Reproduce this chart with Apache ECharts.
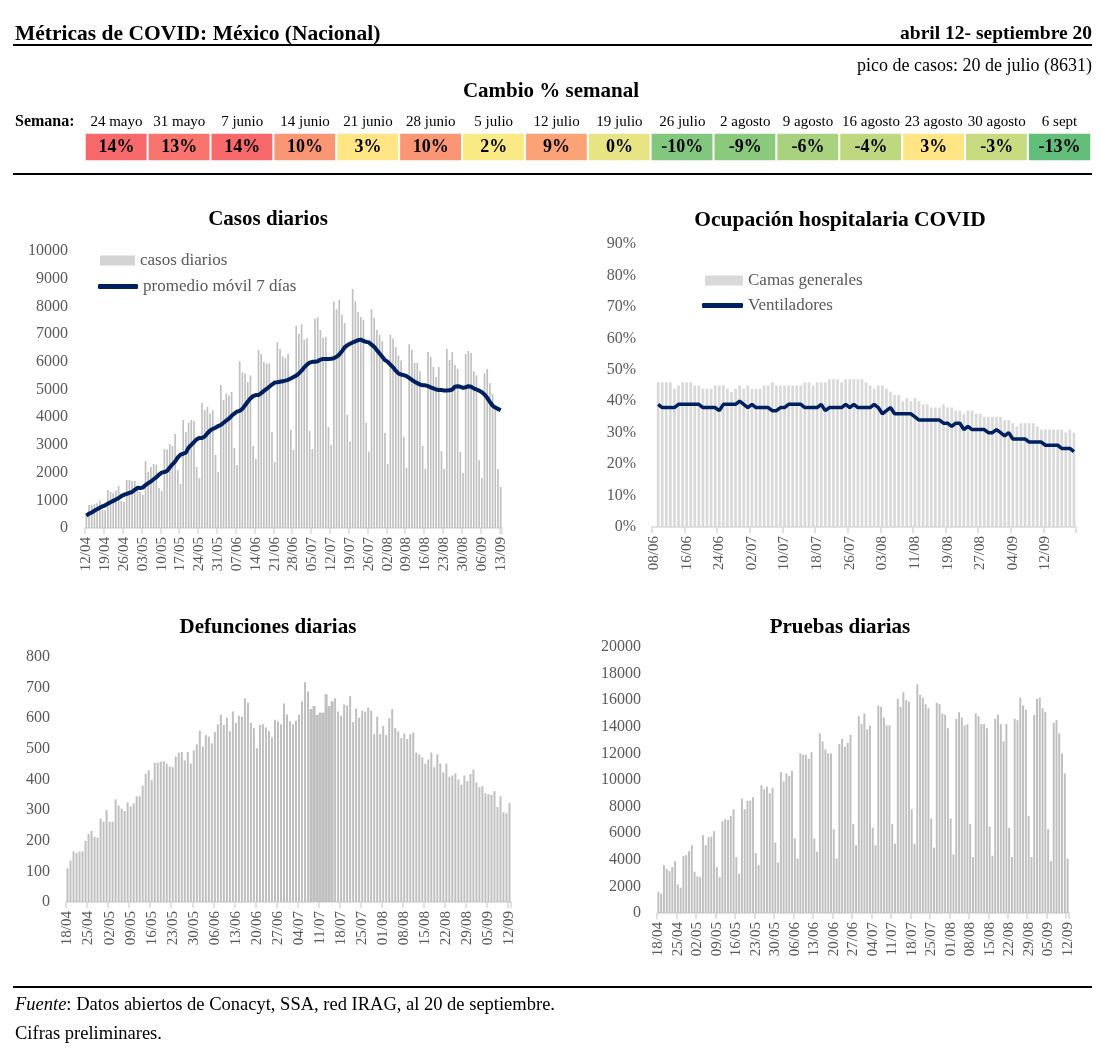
<!DOCTYPE html>
<html><head><meta charset="utf-8">
<script src="https://cdn.jsdelivr.net/npm/echarts/dist/echarts.min.js"></script>
<style>html,body{margin:0;padding:0;background:#fff}#c{width:1101px;height:1050px}</style>
</head><body><div id="c"></div>
<script>
// ---------------- DATA ----------------
const weekLabels = ['24 mayo','31 mayo','7 junio','14 junio','21 junio','28 junio','5 julio','12 julio','19 julio','26 julio','2 agosto','9 agosto','16 agosto','23 agosto','30 agosto','6 sept'];
const weekChange = [14,13,14,10,3,10,2,9,0,-10,-9,-6,-4,3,-3,-13];

const casosStart = '2020-04-12';
const casosDiarios = [470,
 830,840,860,890,1000, 660,650,
 1370,1310,1260,1350,1520, 990,940,
 1730,1730,1700,1700,1500, 1300,1200,
 2420,2020,2200,2310,2290, 1440,1340,
 2850,2830,3030,2960,3390, 2090,1590,
 3900,3470,3800,3900,3860, 2200,1800,
 4510,4260,4370,4130,4250, 2640,2020,
 5160,4620,4850,4780,4910, 2890,2270,
 6020,5620,5580,5270,5510, 2960,2490,
 6430,6280,5990,5940,5940, 3470,2380,
 6710,6460,6190,6130,6290, 3540,2820,
 7300,7000,7350,6800,6850, 3500,2850,
 7550,7600,7150,6870,6900, 3650,3000,
 8170,7900,8240,7700,7400, 4080,3120,
 8631,8180,7800,7620,7520, 3800,2760,
 7900,7580,7150,6970,6750, 3430,2310,
 6970,6840,6530,6230,6050, 3290,2170,
 6630,6430,5960,5960,5660, 2960,2130,
 6350,6170,5810,5450,5810, 2780,2130,
 6460,6060,6350,5880,5740, 2740,1990,
 6280,6390,6320,5660,5510, 2450,1800,
 5580,5740,5230,4840,4300, 2130,1480];
const casosPromedio = [450,520,560,620,680,730,780,820,
 880,930,980,1030,1080,1150,1200,
 1230,1270,1300,1380,1450,1440,1460,
 1550,1620,1680,1760,1830,1920,2000,
 2020,2060,2180,2300,2400,2550,2650,
 2680,2720,2900,3000,3100,3200,3250,
 3250,3300,3420,3520,3580,3620,3680,
 3720,3800,3880,3950,4050,4130,4200,
 4230,4300,4430,4560,4680,4760,4800,
 4800,4870,4950,5020,5100,5180,5250,
 5260,5280,5300,5320,5350,5400,5450,
 5500,5580,5680,5800,5900,5970,6000,
 6000,6020,6080,6100,6100,6100,6110,
 6130,6180,6260,6380,6520,6600,6650,
 6700,6740,6780,6800,6750,6720,6700,
 6620,6540,6420,6300,6180,6060,6000,
 5900,5800,5680,5580,5540,5520,5480,
 5420,5350,5280,5230,5180,5150,5150,
 5120,5080,5040,5000,4980,4980,4960,
 4960,4970,5000,5100,5120,5100,5060,
 5080,5120,5100,5040,5000,4960,4900,
 4820,4700,4550,4420,4350,4300,4250];

const hospStart = '2020-06-08';
const camasGenerales = [null,
 46,46,46,46,44,45,46,46,46,45,45,44,44,44,45,45,45,44,43,44,45,44,45,44,44,44,45,45,46,
 45,45,45,45,45,45,45,46,46,45,46,46,46,47,47,47,46,47,47,47,47,47,46,45,44,45,45,44,43,
 42,42,40,41,40,41,40,39,39,38,38,38,39,38,38,37,37,36,37,37,36,36,
 35,35,35,35,35,34,34,33,32,33,33,33,33,32,31,31,31,31,31,31,30,31,30];
const ventiladores = [null,
 39,38,38,38,38,39,39,39,39,39,39,38,38,38,38,37,39,39,39,39,40,39,38,39,38,38,38,38,37,37,
 38,38,39,39,39,39,38,38,38,38,39,37,38,38,38,38,39,38,39,38,38,38,38,39,38,36,37,38,
 36,36,36,36,36,35,34,34,34,34,34,34,33,33,32,33,33,31,32,31,31,31,31,30,30,31,30,29,30,
 28,28,28,28,27,27,27,27,26,26,26,26,25,25,25,24];

const defStart = '2020-04-18';
const defunciones = [110,135,165,160,165,165,200,222,232,212,
 210,272,262,300,262,262,335,315,305,297,
 325,312,322,345,345,380,418,430,398,455,
 455,458,460,452,442,440,475,488,490,462,
 490,452,495,515,560,508,545,540,518,555,
 580,612,578,602,558,622,585,608,605,665,
 650,585,568,502,578,580,570,558,538,595,
 590,580,648,612,590,580,592,612,655,718,
 688,630,640,610,618,618,678,640,655,665,
 622,608,645,642,672,588,632,602,625,622,
 635,625,548,605,548,575,545,600,630,568,
 557,535,550,532,548,553,488,482,472,452,
 465,488,440,482,452,423,452,408,413,420,
 400,383,413,395,418,432,390,375,378,355,
 352,350,362,310,345,293,290,323];
const pruebas = [1600,1450,3600,3300,3150,3450,3900,
 2150,1900,4300,4350,4650,5100,3100,
 2750,2700,5850,5100,5700,5750,6150,
 3450,2700,6900,7050,7000,7300,7800,
 4200,2950,8600,7800,8450,8450,8700,
 4500,3600,9600,9300,9500,9000,9400,
 5300,3800,10600,9900,10500,10300,10700,
 5600,4100,12000,11900,11900,11600,12100,
 5600,4600,13500,12900,12300,12000,12000,
 6300,4100,12700,13100,12500,12800,13400,
 6700,5100,14800,14200,15000,13800,14100,
 6400,5100,15600,15500,14700,14100,14100,
 6700,5200,16100,15500,16600,16000,15900,
 7800,5200,17200,16400,16200,15700,15400,
 7100,4900,15800,15700,15000,14900,13900,
 7100,4400,14600,15100,14700,14100,14200,
 6700,4200,15000,14800,14200,14200,13900,
 6500,4300,14600,14900,14200,12900,14200,
 6400,4200,14600,14500,16200,15600,15300,
 7300,4200,14900,16100,16200,15400,15100,
 6300,3900,14300,14500,13500,12000,10500,
 4100];

// ---------------- HELPERS ----------------
function dayLabels(startISO, n){
  const t0 = Date.parse(startISO + 'T00:00:00Z');
  const p = x => String(x).padStart(2,'0');
  return Array.from({length:n}, (_, i) => { const d = new Date(t0 + i*864e5); return p(d.getUTCDate()) + '/' + p(d.getUTCMonth()+1); });
}
const casosCats = dayLabels(casosStart, casosDiarios.length);
const hospCats = dayLabels(hospStart, camasGenerales.length);
const defCats = dayLabels(defStart, defunciones.length);
const pruCats = dayLabels(defStart, pruebas.length);
// block of days that Excel rendered merged (no gaps)
const defBloque = defunciones.map((v, i) => (i >= 81 && i <= 88) ? v : '-');

const F = "'Liberation Serif','Times New Roman',serif";
const GRAY = '#595959';
const NAVY = '#002060';

// Excel-like 3 colour scale (green - yellow at median - red)
const sortedW = weekChange.slice().sort((a,b)=>a-b);
const wMin = sortedW[0], wMax = sortedW[sortedW.length-1];
const wMid = (sortedW[(sortedW.length-1)>>1] + sortedW[sortedW.length>>1]) / 2;
function excelColor(v){
  const G=[99,190,123], Y=[255,235,132], R=[248,105,107];
  let a,b,t;
  if (v <= wMid){ a=G; b=Y; t=(v-wMin)/(wMid-wMin); } else { a=Y; b=R; t=(v-wMid)/(wMax-wMid); }
  return 'rgb(' + a.map((c,i)=>Math.round(c+(b[i]-c)*t)).join(',') + ')';
}
const scaleColors = [];
for (let v = wMin; v <= wMax; v++) scaleColors.push(excelColor(v));

function xCat(gridIndex, data, interval){
  return {
    type:'category', gridIndex, data, boundaryGap:true,
    axisLine:{lineStyle:{color:'#D9D9D9', width:1.5}},
    axisTick:{show:true, interval, length:6, lineStyle:{color:'#D9D9D9', width:1.5}},
    axisLabel:{interval, rotate:90, color:GRAY, fontFamily:F, fontSize:15, margin:9}
  };
}
function yVal(gridIndex, max, interval, suffix, margin){
  return {
    type:'value', gridIndex, min:0, max, interval,
    axisLine:{show:false}, axisTick:{show:false}, splitLine:{show:false},
    axisLabel:{color:GRAY, fontFamily:F, fontSize:16, margin:margin, formatter: v => String(v) + suffix}
  };
}
function txt(x, y, text, font, align, fill){
  return {type:'text', x, y, silent:true, style:{text, font, fill: fill || '#000', align: align || 'left', textAlign: align || 'left', verticalAlign:'middle', textVerticalAlign:'middle'}};
}
function hline(y, x1, x2){
  return {type:'line', silent:true, shape:{x1, y1:y, x2, y2:y}, style:{stroke:'#000', lineWidth:2}};
}
const legendText = {color:GRAY, fontFamily:F, fontSize:17};

const chart = echarts.init(document.getElementById('c'), null, {renderer:'canvas'});
chart.setOption({
  animation:false,
  backgroundColor:'#fff',
  grid:[
    {left:85, top:251, width:417, height:277},
    {left:652, top:244, width:424, height:283},
    {left:66, top:657, width:445, height:245},
    {left:657, top:647, width:412, height:266},
    {left:85, top:133, width:1006, height:28}
  ],
  xAxis:[
    xCat(0, casosCats, 6),
    xCat(1, hospCats, 7),
    xCat(2, defCats, 6),
    {type:'category', gridIndex:2, data:defCats, show:false},
    xCat(3, pruCats, 6),
    {type:'category', gridIndex:4, data:weekLabels, position:'top', axisLine:{show:false}, axisTick:{show:false},
     axisLabel:{color:'#000', fontFamily:F, fontSize:15, margin:3, interval:0}}
  ],
  yAxis:[
    yVal(0, 10000, 1000, '', 17),
    yVal(1, 90, 10, '%', 16),
    yVal(2, 800, 100, '', 16),
    yVal(3, 20000, 2000, '', 16),
    {type:'category', gridIndex:4, data:['Semana'], show:false}
  ],
  visualMap:{type:'continuous', show:false, seriesIndex:7, dimension:2, min:wMin, max:wMax, inRange:{color:scaleColors}},
  legend:[
    {data:[{name:'casos diarios', icon:'rect', itemStyle:{color:'#D4D4D4'}}],
     left:95, top:247, itemWidth:35, itemHeight:10, selectedMode:false, textStyle:legendText},
    {data:[{name:'promedio móvil 7 días', icon:'roundRect', itemStyle:{color:NAVY}}],
     left:93, top:273, itemWidth:40, itemHeight:5, selectedMode:false, textStyle:legendText},
    {data:[{name:'Camas generales', icon:'rect', itemStyle:{color:'#D9D9D9'}}],
     left:700, top:267, itemWidth:38, itemHeight:10, selectedMode:false, textStyle:legendText},
    {data:[{name:'Ventiladores', icon:'roundRect', itemStyle:{color:NAVY}}],
     left:697, top:292, itemWidth:41, itemHeight:5, selectedMode:false, textStyle:legendText}
  ],
  series:[
    {name:'casos diarios', type:'bar', xAxisIndex:0, yAxisIndex:0, data:casosDiarios, barWidth:'62%', itemStyle:{color:'#C0C0C0'}, silent:true},
    {name:'promedio móvil 7 días', type:'line', xAxisIndex:0, yAxisIndex:0, data:casosPromedio, symbol:'none', lineStyle:{color:NAVY, width:4}, itemStyle:{color:NAVY}, silent:true},
    {name:'Camas generales', type:'bar', xAxisIndex:1, yAxisIndex:1, data:camasGenerales, barWidth:'66%', itemStyle:{color:'#D9D9D9'}, silent:true},
    {name:'Ventiladores', type:'line', xAxisIndex:1, yAxisIndex:1, data:ventiladores, symbol:'none', lineStyle:{color:NAVY, width:3.5}, itemStyle:{color:NAVY}, silent:true},
    {name:'defunciones', type:'bar', xAxisIndex:2, yAxisIndex:2, data:defunciones, barWidth:'66%', itemStyle:{color:'#BFBFBF'}, silent:true},
    {name:'defunciones bloque', type:'bar', xAxisIndex:3, yAxisIndex:2, data:defBloque, barWidth:'100%', itemStyle:{color:'#BFBFBF'}, silent:true},
    {name:'pruebas', type:'bar', xAxisIndex:4, yAxisIndex:3, data:pruebas, barWidth:'70%', itemStyle:{color:'#BFBFBF'}, silent:true},
    {name:'cambio semanal', type:'heatmap', xAxisIndex:5, yAxisIndex:4,
     data:weekChange.map((v,i)=>[i,0,v]),
     itemStyle:{borderColor:'#fff', borderWidth:2},
     label:{show:true, formatter:p=>p.value[2]+'%', color:'#000', fontFamily:F, fontSize:18, fontWeight:'bold'},
     silent:true}
  ],
  graphic:[
    txt(15, 34, 'Métricas de COVID: México (Nacional)', 'bold 21.5px ' + F, 'left'),
    txt(1092, 34, 'abril 12- septiembre 20', 'bold 19.5px ' + F, 'right'),
    hline(45, 13, 1092),
    txt(1092, 66, 'pico de casos: 20 de julio (8631)', '18px ' + F, 'right'),
    txt(551, 92, 'Cambio % semanal', 'bold 21px ' + F, 'center'),
    txt(15, 122, 'Semana:', 'bold 16px ' + F, 'left'),
    hline(174, 13, 1092),
    txt(268, 220, 'Casos diarios', 'bold 21px ' + F, 'center'),
    txt(840, 220, 'Ocupación hospitalaria COVID', 'bold 21.5px ' + F, 'center'),
    txt(268, 628, 'Defunciones diarias', 'bold 21px ' + F, 'center'),
    txt(840, 628, 'Pruebas diarias', 'bold 21px ' + F, 'center'),
    hline(987, 13, 1092),
    {type:'text', x:15, y:1005, silent:true, style:{
      text:'{i|Fuente}{n|: Datos abiertos de Conacyt, SSA, red IRAG, al 20 de septiembre.}',
      rich:{i:{fontFamily:F, fontSize:18.5, fontStyle:'italic', fill:'#000', color:'#000'}, n:{fontFamily:F, fontSize:18.5, fill:'#000', color:'#000'}},
      verticalAlign:'middle', textVerticalAlign:'middle'}},
    txt(15, 1034, 'Cifras preliminares.', '18.5px ' + F, 'left')
  ]
});
</script>
</body></html>
